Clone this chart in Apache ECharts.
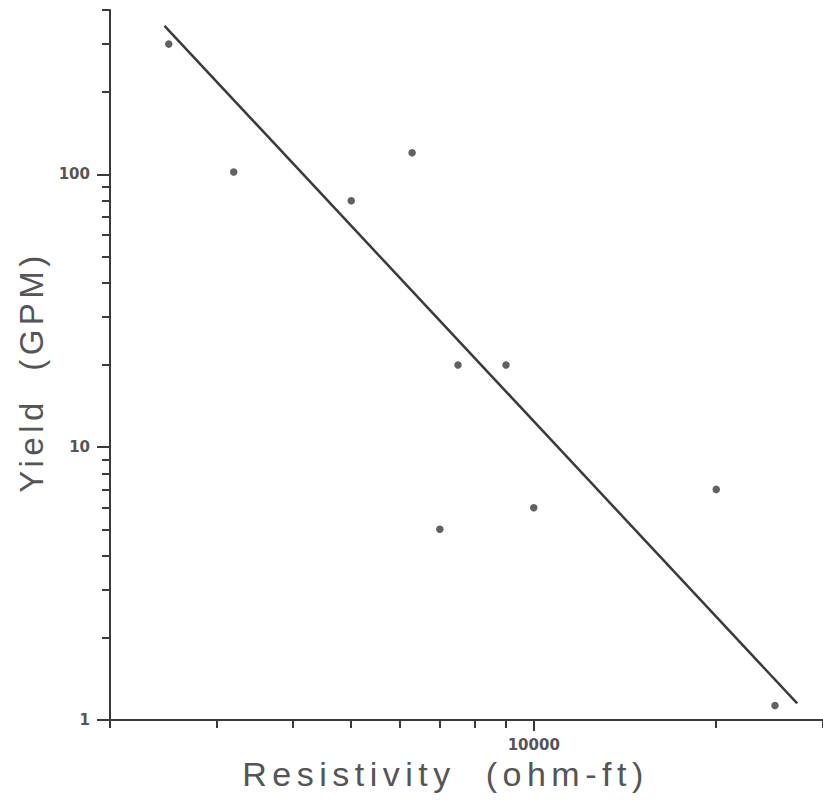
<!DOCTYPE html>
<html>
<head>
<meta charset="utf-8">
<script src="https://cdn.jsdelivr.net/npm/echarts@6/dist/echarts.min.js"></script>
<style>
  html, body { margin: 0; padding: 0; background: #fff; }
  #chart { width: 823px; height: 804px; }
  /* wide tracking for the two axis titles (33px and 34px text) */
  #chart text[style*="33px"] { letter-spacing: 4.5px; }
  #chart text[style*="34px"] { letter-spacing: 5.5px; }
</style>
</head>
<body>
<div id="chart"></div>
<script>
// Well yield against apparent resistivity (log-log)
const resistivity = [2500, 3200, 5000, 6300, 7500, 9000, 10000, 7000, 20000, 25000];
const yieldGpm    = [300, 102, 80, 120, 20, 20, 6, 5, 7, 1.13];

// Fitted power-law trend, drawn between its two end points
const fitResistivity = [2460, 27200];
const fitYield       = [350, 1.15];

// Axis ranges and tick values
const xRange = [2000, 30000];
const yRange = [1, 400];
const xMajorTicks = [10000];
const xMinorTicks = [2000, 3000, 4000, 5000, 6000, 7000, 8000, 9000, 20000, 30000];
const yMajorTicks = [1, 10, 100];
const yMinorTicks = [2, 3, 4, 5, 6, 7, 8, 9, 20, 30, 40, 50, 60, 70, 80, 90, 200, 300, 400];

const ink = '#3a3a3a';
const textInk = '#555';

const points = resistivity.map((r, i) => [r, yieldGpm[i]]);
const fitLine = fitResistivity.map((r, i) => [r, fitYield[i]]);

function baseAxis(extra) {
  return Object.assign({
    type: 'log',
    logBase: 10,
    splitLine: { show: false },
    minorTick: { show: false },
    minorSplitLine: { show: false }
  }, extra);
}

const chart = echarts.init(document.getElementById('chart'), null, { renderer: 'svg' });
chart.setOption({
  animation: false,
  backgroundColor: '#fff',
  grid: { left: 110, right: 0, top: 10, bottom: 84, containLabel: false },
  xAxis: [
    baseAxis({
      min: xRange[0], max: xRange[1],
      position: 'bottom',
      axisLine: { show: true, lineStyle: { color: ink, width: 2 } },
      axisTick: { show: true, length: 11, customValues: xMajorTicks, lineStyle: { color: ink, width: 2 } },
      axisLabel: {
        show: true, customValues: xMajorTicks, margin: 17,
        color: textInk, fontFamily: 'DejaVu Sans', fontWeight: 'bold', fontSize: 15,
        formatter: v => String(Math.round(v))
      },
      name: 'Resistivity  (ohm-ft)',
      nameLocation: 'middle',
      nameGap: 37,
      nameTextStyle: { color: textInk, fontFamily: 'Liberation Sans', fontSize: 34, padding: [0, 42, 0, 0] }
    }),
    baseAxis({
      min: xRange[0], max: xRange[1],
      position: 'bottom',
      axisLine: { show: false },
      axisTick: { show: true, length: 8, customValues: xMinorTicks, lineStyle: { color: ink, width: 2 } },
      axisLabel: { show: false }
    })
  ],
  yAxis: [
    baseAxis({
      min: yRange[0], max: yRange[1],
      position: 'left',
      axisLine: { show: true, lineStyle: { color: ink, width: 2 } },
      axisTick: { show: true, length: 13, customValues: yMajorTicks, lineStyle: { color: ink, width: 2 } },
      axisLabel: {
        show: true, customValues: yMajorTicks, margin: 20,
        color: textInk, fontFamily: 'DejaVu Sans', fontWeight: 'bold', fontSize: 15,
        formatter: v => String(Math.round(v))
      },
      name: 'Yield  (GPM)',
      nameLocation: 'middle',
      nameGap: 42,
      nameRotate: 90,
      nameTextStyle: { color: textInk, fontFamily: 'Liberation Sans', fontSize: 33, padding: [0, 14, 0, 0] }
    }),
    baseAxis({
      min: yRange[0], max: yRange[1],
      position: 'left',
      axisLine: { show: false },
      axisTick: { show: true, length: 8, customValues: yMinorTicks, lineStyle: { color: ink, width: 2 } },
      axisLabel: { show: false }
    })
  ],
  series: [
    {
      type: 'line',
      data: fitLine,
      xAxisIndex: 0, yAxisIndex: 0,
      symbol: 'none',
      lineStyle: { color: ink, width: 2.5 },
      silent: true
    },
    {
      type: 'scatter',
      data: points,
      xAxisIndex: 0, yAxisIndex: 0,
      symbol: 'circle',
      symbolSize: 7.5,
      itemStyle: { color: ink }
    }
  ]
});
</script>
</body>
</html>
